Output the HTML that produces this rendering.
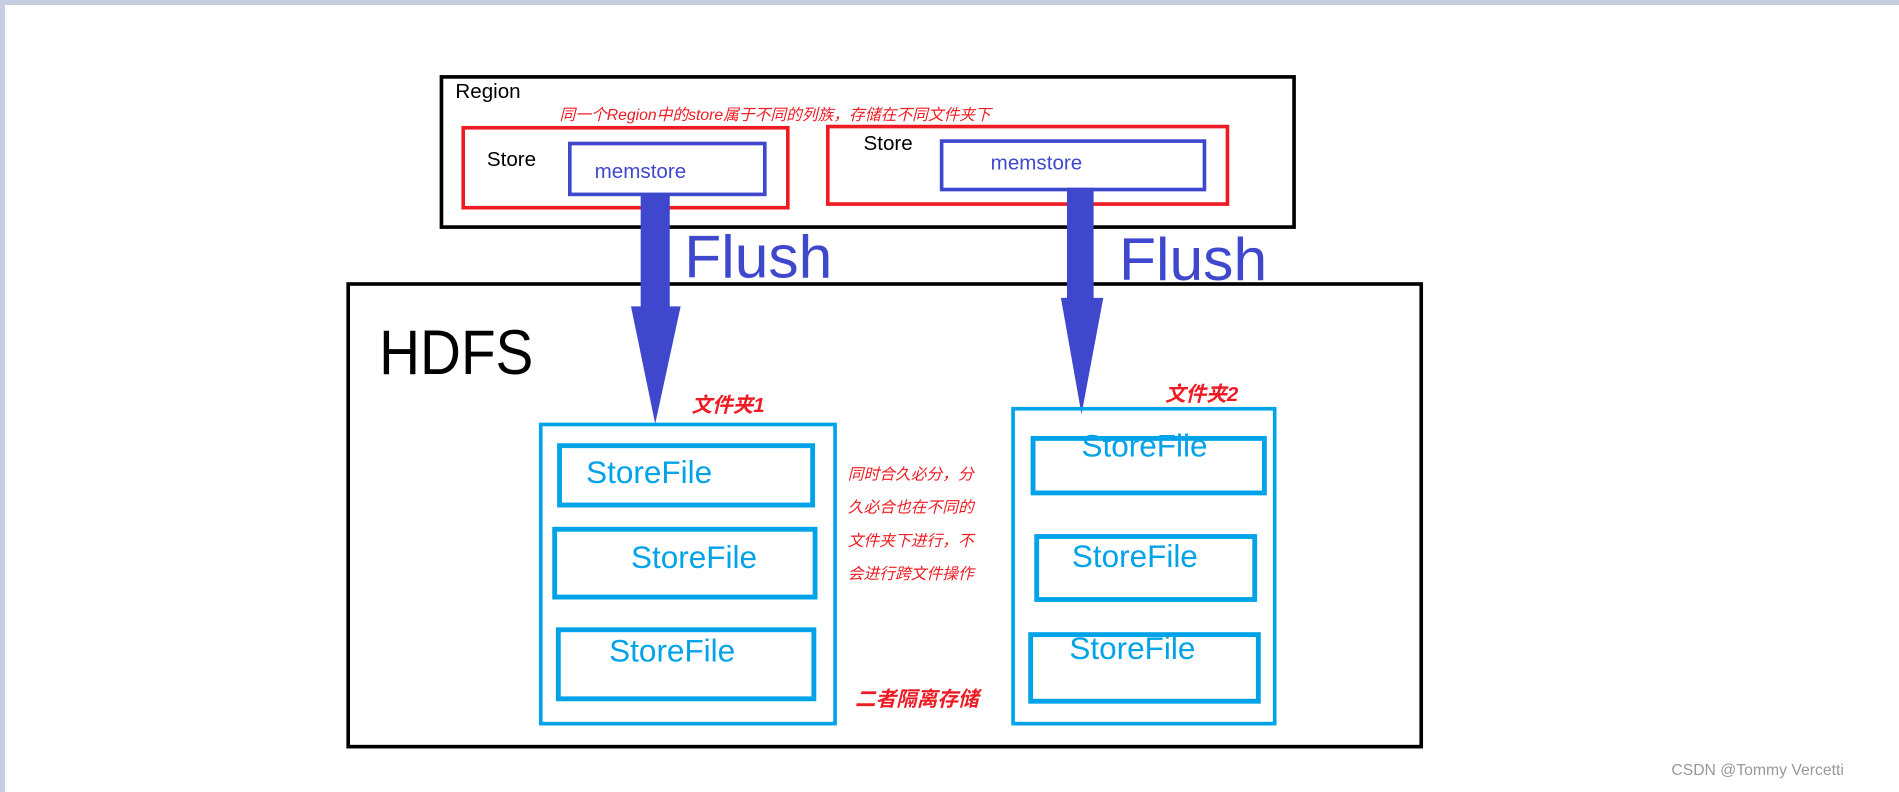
<!DOCTYPE html>
<html><head><meta charset="utf-8"><style>
html,body{margin:0;padding:0;width:1899px;height:792px;overflow:hidden;background:#fff}
#bt{position:absolute;left:0;top:0;width:1899px;height:5px;background:#c5cfe0}
#bl{position:absolute;left:0;top:0;width:5px;height:792px;background:#c5cfe0}
#w{position:absolute;left:0;top:0;width:1568px;height:654px;transform:scale(1.2111);transform-origin:0 0;font-family:"Liberation Sans","Noto Sans CJK SC",sans-serif}
.b{position:absolute;box-sizing:border-box}
.t{position:absolute;white-space:nowrap;line-height:1}
.r{color:#ed1c24;font-style:italic}
.sf{color:#00a2e8;font-size:26px}
</style></head><body>
<div id="bt"></div><div id="bl"></div>
<div id="w">
<div class="b" style="left:363px;top:62px;width:707px;height:127px;border:3px solid #000"></div>
<div class="t" style="left:376px;top:67px;font-size:17px">Region</div>
<div class="t r" style="left:462px;top:88px;font-size:13px">同一个Region中的store属于不同的列族，存储在不同文件夹下</div>
<div class="b" style="left:381px;top:104px;width:271px;height:69px;border:3px solid #ed1c24"></div>
<div class="t" style="left:402px;top:123px;font-size:17px">Store</div>
<div class="b" style="left:469px;top:117px;width:164px;height:45px;border:3px solid #3f48cc"></div>
<div class="t" style="left:491px;top:133px;font-size:17px;color:#3f48cc">memstore</div>
<div class="b" style="left:682px;top:103px;width:333px;height:67px;border:3px solid #ed1c24"></div>
<div class="t" style="left:713px;top:110px;font-size:17px">Store</div>
<div class="b" style="left:776px;top:115px;width:220px;height:43px;border:3px solid #3f48cc"></div>
<div class="t" style="left:818px;top:126px;font-size:17px;color:#3f48cc">memstore</div>

<div class="b" style="left:286px;top:233px;width:889px;height:385px;border:3px solid #000"></div>
<div class="t" style="left:313px;top:266px;font-size:52px;transform:scaleX(0.9);transform-origin:0 0">HDFS</div>

<div class="t" style="left:565px;top:187px;font-size:50px;color:#3f48cc">Flush</div>
<div class="t" style="left:924px;top:189px;font-size:50px;color:#3f48cc">Flush</div>

<svg style="position:absolute;left:0;top:0" width="1568" height="654">
<polygon points="529,160 553,160 553,253 562,253 541,350 521,253 529,253" fill="#3f48cc"/>
<polygon points="881,155 903,155 903,246 911,246 893,342 876,246 881,246" fill="#3f48cc"/>
</svg>

<div class="b" style="left:445px;top:349px;width:246px;height:250px;border:3px solid #00a2e8"></div>
<div class="t r" style="left:571px;top:326px;font-size:17px;font-weight:bold">文件夹1</div>
<div class="b" style="left:460px;top:366px;width:213px;height:53px;border:4px solid #00a2e8"></div>
<div class="t sf" style="left:484px;top:377px">StoreFile</div>
<div class="b" style="left:456px;top:435px;width:219px;height:60px;border:4px solid #00a2e8"></div>
<div class="t sf" style="left:521px;top:447px">StoreFile</div>
<div class="b" style="left:459px;top:518px;width:215px;height:61px;border:4px solid #00a2e8"></div>
<div class="t sf" style="left:503px;top:524px">StoreFile</div>

<div class="b" style="left:835px;top:336px;width:219px;height:263px;border:3px solid #00a2e8"></div>
<div class="t r" style="left:962px;top:317px;font-size:17px;font-weight:bold">文件夹2</div>
<div class="b" style="left:851px;top:360px;width:195px;height:49px;border:4px solid #00a2e8"></div>
<div class="t sf" style="left:893px;top:355px">StoreFile</div>
<div class="b" style="left:854px;top:441px;width:184px;height:56px;border:4px solid #00a2e8"></div>
<div class="t sf" style="left:885px;top:446px">StoreFile</div>
<div class="b" style="left:849px;top:522px;width:192px;height:59px;border:4px solid #00a2e8"></div>
<div class="t sf" style="left:883px;top:522px">StoreFile</div>

<div class="t r" style="left:700px;top:385px;font-size:13px">同时合久必分，分</div>
<div class="t r" style="left:700px;top:412px;font-size:13px">久必合也在不同的</div>
<div class="t r" style="left:700px;top:440px;font-size:13px">文件夹下进行，不</div>
<div class="t r" style="left:700px;top:467px;font-size:13px">会进行跨文件操作</div>
<div class="t r" style="left:706px;top:569px;font-size:17px;font-weight:bold">二者隔离存储</div>

<div class="t" style="left:1380px;top:629px;font-size:13px;color:#999">CSDN @Tommy Vercetti</div>
</div>
</body></html>
